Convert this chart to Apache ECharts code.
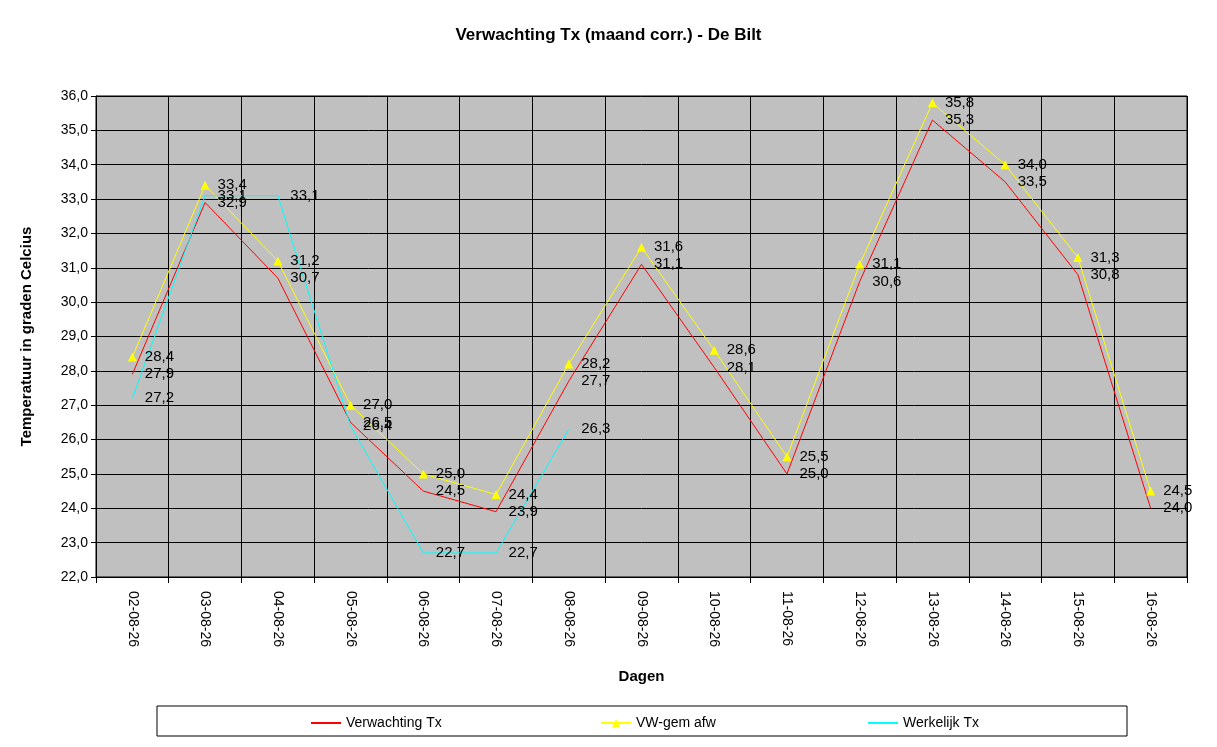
<!DOCTYPE html>
<html>
<head>
<meta charset="utf-8">
<script src="https://cdn.jsdelivr.net/npm/echarts@6/dist/echarts.min.js"></script>
<style>html,body{margin:0;padding:0;background:#fff}#chart{width:1217px;height:747px}</style>
</head>
<body>
<div id="chart"></div>
<script>
// dagen en temperaturen
var dagen = ['02-08-26','03-08-26','04-08-26','05-08-26','06-08-26','07-08-26','08-08-26','09-08-26','10-08-26','11-08-26','12-08-26','13-08-26','14-08-26','15-08-26','16-08-26']
var verwachting = [27.9,32.9,30.7,26.5,24.5,23.9,27.7,31.1,28.1,25.0,30.6,35.3,33.5,30.8,24.0]
var vwGem = [28.4,33.4,31.2,27.0,25.0,24.4,28.2,31.6,28.6,25.5,31.1,35.8,34.0,31.3,24.5]
var werkelijk = [27.2,33.1,33.1,26.4,22.7,22.7,26.3,null,null,null,null,null,null,null,null]

function fmt(v){ return v.toFixed(1).replace('.', ',') }
var lbl = {show:true, position:'right', distance:8, color:'#000', fontFamily:'Arial', fontSize:15,
	formatter:function(p){ return fmt(p.value) }}

function serie(naam, data, kleur, symbool){
	return {name:naam, type:'line', data:data, symbol:symbool, symbolSize:9, connectNulls:false,
		lineStyle:{color:kleur, width:1}, itemStyle:{color:kleur}, label:lbl, animation:false}
}

var myChart = echarts.init(document.getElementById('chart'))
var legendBase = {top:711, itemWidth:30, itemHeight:10, textStyle:{fontFamily:'Arial', fontSize:14, color:'#000'}}
myChart.setOption({
	backgroundColor:'#fff',
	title:{text:'Verwachting Tx (maand corr.) - De Bilt', left:'center', top:22,
		textStyle:{fontFamily:'Arial', fontSize:17, fontWeight:'bold', color:'#000'}},
	grid:{left:96, top:96, width:1091, height:481},
	legend:[
		Object.assign({left:305, data:['Verwachting Tx']}, legendBase),
		Object.assign({left:595, data:['VW-gem afw']}, legendBase),
		Object.assign({left:862, data:['Werkelijk Tx']}, legendBase)
	],
	graphic:[
		{type:'rect', shape:{x:157, y:706, width:970, height:30}, style:{fill:'none', stroke:'#000', lineWidth:1}},
		{type:'rect', shape:{x:96, y:96, width:1091, height:481}, style:{fill:'none', stroke:'#000', lineWidth:1}, z:100}
	],
	xAxis:{type:'category', data:dagen, boundaryGap:true,
		name:'Dagen', nameLocation:'middle', nameGap:92,
		nameTextStyle:{fontFamily:'Arial', fontSize:15, fontWeight:'bold', color:'#000'},
		axisLine:{lineStyle:{color:'#000'}}, axisTick:{show:true, length:6, lineStyle:{color:'#000'}},
		axisLabel:{rotate:-90, fontFamily:'Arial', fontSize:14, color:'#000', margin:14},
		splitLine:{show:true, lineStyle:{color:'#000', width:1}}},
	yAxis:{type:'value', min:22, max:36, interval:1,
		name:'Temperatuur in graden Celcius', nameLocation:'middle', nameGap:62,
		nameTextStyle:{fontFamily:'Arial', fontSize:15, fontWeight:'bold', color:'#000'},
		axisLine:{show:true, lineStyle:{color:'#000'}}, axisTick:{show:true, length:5, lineStyle:{color:'#000'}},
		axisLabel:{fontFamily:'Arial', fontSize:14, color:'#000', formatter:function(v){ return fmt(v) }},
		splitLine:{show:true, lineStyle:{color:'#000', width:1}},
		splitArea:{show:true, areaStyle:{color:['#c0c0c0','#c0c0c0']}}},
	series:[
		serie('Verwachting Tx', verwachting, '#ff0000', 'path://M0,0L10,10M10,0L0,10M5,0L5,10'),
		serie('VW-gem afw', vwGem, '#ffff00', 'triangle'),
		serie('Werkelijk Tx', werkelijk, '#00ffff', 'path://M0,0L10,10M10,0L0,10')
	]
})
</script>
</body>
</html>
